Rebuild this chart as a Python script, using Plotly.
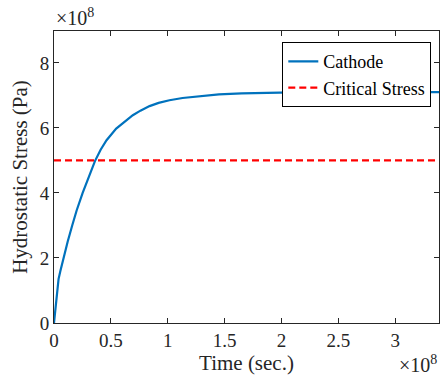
import plotly.graph_objects as go

# Time in units of 1e8 s, stress in units of 1e8 Pa
time_e8 = [0, 0.01, 0.02, 0.04, 0.056, 0.082, 0.12, 0.16, 0.199, 0.252, 0.3, 0.36, 0.41, 0.462,
           0.547, 0.62, 0.693, 0.76, 0.84, 0.92, 1.015, 1.13, 1.278, 1.45, 1.65, 1.85, 2.1, 2.5, 3.0, 3.4]
cathode_e8 = [0, 0.36, 0.7, 1.35, 1.6, 1.98, 2.5, 3.0, 3.46, 4.0, 4.45, 4.98, 5.33, 5.62,
              5.98, 6.2, 6.39, 6.53, 6.67, 6.77, 6.85, 6.92, 6.98, 7.03, 7.06, 7.08, 7.09, 7.1, 7.1, 7.1]
critical_e8 = 5.0

x_ticks = [0, 0.5, 1, 1.5, 2, 2.5, 3]
y_ticks = [0, 2, 4, 6, 8]
x_max = 3.385
y_max = 8.98

FONT = "Liberation Serif"
AX = "#262626"

fig = go.Figure()
fig.add_trace(go.Scatter(x=time_e8, y=cathode_e8, mode="lines", name="Cathode",
                         line=dict(color="#0072BD", width=2.2)))
fig.add_trace(go.Scatter(x=[0, x_max], y=[critical_e8, critical_e8], mode="lines",
                         name="Critical Stress",
                         line=dict(color="#FF0000", width=2.2, dash="7px,4px")))

axis_common = dict(showline=True, linecolor=AX, linewidth=1, mirror="allticks",
                   ticks="inside", ticklen=5, tickcolor=AX, showgrid=False, zeroline=False,
                   tickfont=dict(family=FONT, size=19, color=AX))

fig.update_layout(
    width=440, height=377,
    margin=dict(l=54, r=1, t=31, b=54),
    paper_bgcolor="white", plot_bgcolor="white",
    showlegend=True,
    legend=dict(x=0.98, xanchor="right", y=0.962, yanchor="top",
                bordercolor="black", borderwidth=1, bgcolor="white",
                font=dict(family=FONT, size=18, color="black"),
                tracegroupgap=0, itemwidth=30),
    xaxis=dict(range=[0, x_max], tickvals=x_ticks, ticktext=[str(v) for v in x_ticks],
               title=dict(text="Time (sec.)", font=dict(family=FONT, size=21, color=AX), standoff=4),
               **axis_common),
    yaxis=dict(range=[0, y_max], tickvals=y_ticks, ticktext=[str(v) for v in y_ticks],
               title=dict(text="Hydrostatic Stress (Pa)", font=dict(family=FONT, size=21, color=AX), standoff=6),
               **axis_common),
    annotations=[
        dict(text="×10<sup>8</sup>", xref="paper", yref="paper", x=0, y=1, xanchor="left",
             yanchor="bottom", yshift=0, showarrow=False, font=dict(family=FONT, size=20, color=AX)),
        dict(text="×10<sup>8</sup>", xref="paper", yref="paper", x=1, y=0, xanchor="right",
             yanchor="top", yshift=-27, xshift=0, showarrow=False, font=dict(family=FONT, size=20, color=AX)),
    ],
)

fig.write_html("out.html")
